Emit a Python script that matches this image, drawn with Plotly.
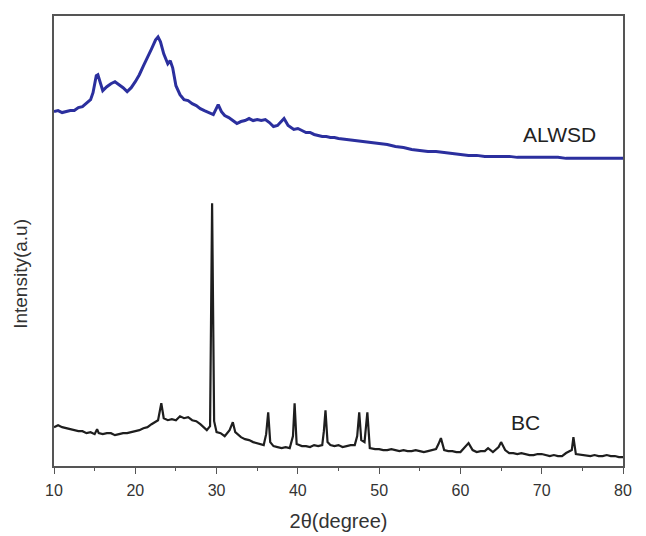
import plotly.graph_objects as go

# BC pattern (2theta, intensity a.u.)
bc_x = [10, 10.5, 11, 11.5, 12, 12.5, 13, 13.5, 14, 14.5, 15, 15.3, 15.5, 16, 16.5, 17, 17.5, 18, 18.5, 19, 19.5, 20,
        20.5, 21, 21.5, 22, 22.5, 22.8, 23.2, 23.5, 24, 24.5, 25, 25.5, 26, 26.5, 27, 27.5, 28,
        28.8, 29.2, 29.45, 29.7, 30, 30.5, 31, 31.6, 32, 32.3, 33, 33.5, 34, 34.5, 35, 35.8, 36.1, 36.35, 36.6, 37,
        37.5, 38, 38.5, 39, 39.4, 39.6, 39.85, 40.5, 41, 41.5, 42, 42.5, 43, 43.2, 43.4, 43.65, 44, 44.5, 45, 45.5,
        46, 46.5, 47, 47.3, 47.55, 47.8, 48.2, 48.55, 48.85, 49.5, 50, 50.5,
        51, 51.5, 52, 52.5, 53, 53.5, 54, 54.5, 55, 55.5, 56, 56.5, 57, 57.3, 57.6, 58, 58.5, 59, 59.5, 60, 60.5, 61,
        61.5, 62, 62.5, 63, 63.4, 64, 64.7, 65, 65.5, 66, 66.5, 67, 67.5,
        68, 68.5, 69, 69.5, 70, 70.5, 71, 71.5, 72, 72.5, 73, 73.7, 73.9, 74.2, 75, 75.5, 76, 76.5, 77, 77.5, 78,
        78.5, 79, 79.5, 80]
bc_y = [39, 41, 39, 38, 37, 36, 35, 35, 33, 34, 32, 37, 33, 32, 33, 33, 31, 32, 33, 33, 34, 35,
        36, 38, 39, 42, 44, 46, 63, 48, 46, 47, 46, 50, 48, 49, 46, 45, 42,
        36, 40, 264, 45, 34, 33, 30, 36, 44, 34, 29, 27, 26, 24, 23, 21, 32, 54, 24, 20,
        19, 18, 19, 18, 30, 63, 22, 20, 20, 19, 21, 20, 21, 35, 56, 24, 21, 20, 21, 19,
        20, 21, 21, 30, 54, 26, 24, 54, 18, 17, 17, 16,
        16, 17, 16, 15, 16, 15, 15, 16, 15, 14, 15, 16, 17, 22, 28, 16, 15, 15, 14, 14, 18, 23,
        16, 14, 15, 15, 18, 14, 19, 24, 16, 13, 13, 12, 13,
        12, 11, 11, 12, 12, 11, 10, 11, 10, 10, 13, 16, 29, 12, 11, 11, 10, 11, 10, 10, 11,
        10, 10, 9, 9]

# ALWSD pattern
al_x = [10, 10.5, 11, 11.5, 12, 12.5, 13, 13.5, 14, 14.5, 14.8, 15.2, 15.4, 15.7, 16, 16.5, 17, 17.5, 18, 18.5, 19,
        19.5, 20, 20.5, 21, 21.5, 22, 22.5, 22.8, 23.1, 23.5, 24, 24.3, 24.6, 25, 25.5, 26, 26.5, 27, 27.5, 28, 28.5,
        29, 29.6, 30.2, 30.6, 31, 31.5, 32, 32.5, 33, 33.5, 34, 34.5, 35, 35.5, 36, 36.5, 37, 37.5, 38.3, 38.8, 39.5,
        40, 40.5, 41, 41.5, 42, 42.5, 43, 43.5, 44, 44.5, 45, 46, 47, 48,
        49, 50, 51, 52, 53, 54, 55, 56, 57, 58, 59, 60, 61, 62, 63, 64, 65, 66, 67, 68, 69, 70, 71, 72, 73, 74,
        75, 76, 77, 78, 79, 80]
al_y = [356, 357, 355, 356, 357, 357, 360, 361, 365, 368, 375, 392, 393, 385, 377, 381, 384, 386, 383, 380, 376,
        380, 386, 393, 402, 410, 419, 428, 431, 426, 414, 404, 407, 400, 382, 373, 368, 367, 364, 362, 359, 357,
        355, 353, 363, 356, 352, 350, 347, 344, 346, 347, 349, 347, 348, 347, 348, 345, 341, 342, 349, 342, 338,
        339, 337, 335, 335, 333, 332, 331, 331, 330, 330, 329, 328, 327, 326,
        325, 324, 323, 321, 320, 318, 317, 316, 316, 315, 314, 313, 312, 312, 311, 311, 311, 311, 310, 310, 310,
        310, 310, 310, 309, 309, 309, 309, 309, 309, 309, 309]

x_ticks = [10, 20, 30, 40, 50, 60, 70, 80]

FONT = "Liberation Sans, Arial"

fig = go.Figure()
fig.add_trace(go.Scatter(x=bc_x, y=bc_y, mode="lines", line=dict(color="#1e1e1e", width=2.2), name="BC"))
fig.add_trace(go.Scatter(x=al_x, y=al_y, mode="lines", line=dict(color="#2b2f9e", width=3), name="ALWSD"))

fig.add_annotation(x=72.2, y=333, text="ALWSD", showarrow=False,
                   font=dict(family=FONT, size=21, color="#222"))
fig.add_annotation(x=68.0, y=44, text="BC", showarrow=False,
                   font=dict(family=FONT, size=21, color="#222"))
fig.add_annotation(xref="paper", yref="paper", x=-0.058, y=0.427, text="Intensity(a.u)",
                   textangle=-90, showarrow=False, xanchor="center", yanchor="middle",
                   font=dict(family=FONT, size=19, color="#333"))

fig.update_layout(
    width=646, height=536,
    margin=dict(l=46, r=31, t=6, b=78),
    plot_bgcolor="white", paper_bgcolor="white",
    showlegend=False,
    font=dict(family=FONT, color="#333"),
)
fig.update_xaxes(
    range=[10, 80], tickvals=x_ticks, ticktext=[str(t) for t in x_ticks],
    ticks="outside", ticklen=6, tickwidth=1, tickcolor="#555", ticklabelstandoff=3,
    minor=dict(dtick=5, tick0=10, ticks="outside", ticklen=3, tickcolor="#555"),
    showline=True, linecolor="#555", linewidth=1.5, mirror=True, showgrid=False, zeroline=False,
    tickfont=dict(size=16, color="#333"),
    title=dict(text="2θ(degree)", font=dict(size=20, color="#333"), standoff=16),
)
fig.update_yaxes(
    range=[0, 452], showticklabels=False, ticks="",
    showline=True, linecolor="#555", linewidth=1.5, mirror=True, showgrid=False, zeroline=False,
)

fig.write_html("out.html")
